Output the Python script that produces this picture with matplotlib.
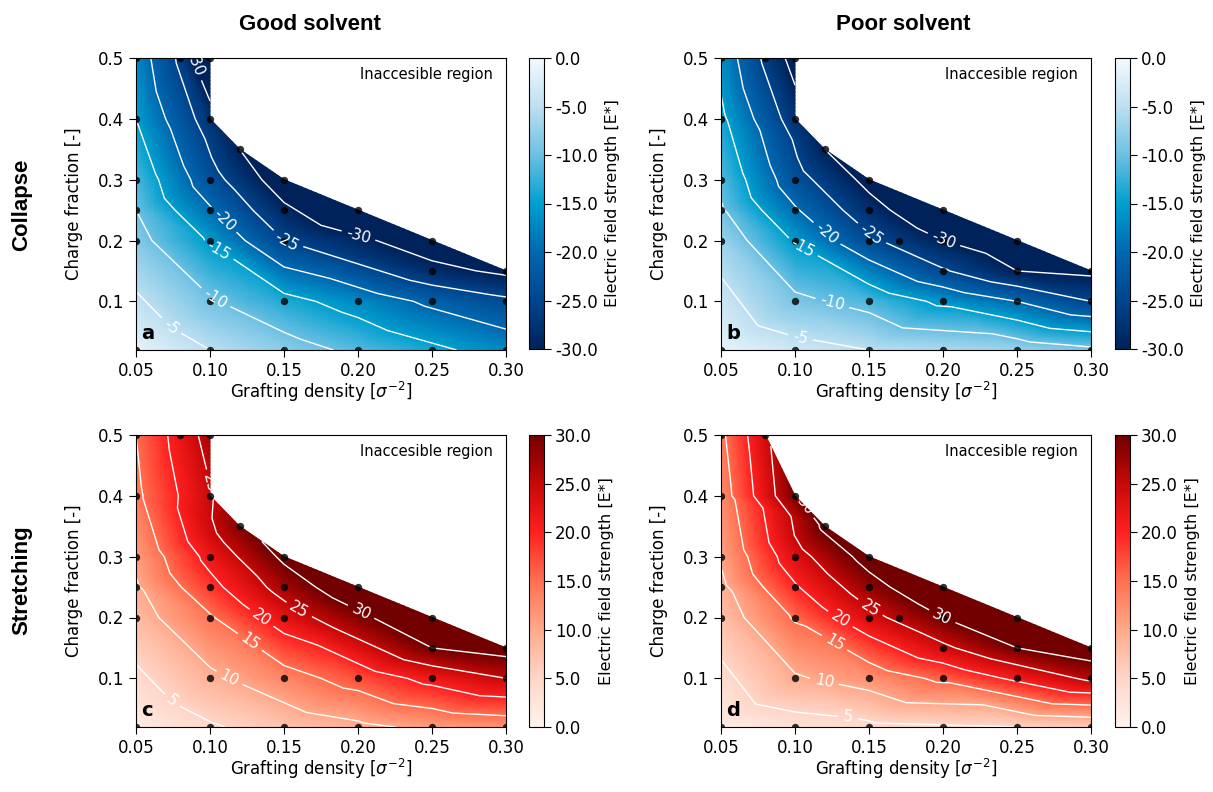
import numpy as np
import matplotlib
matplotlib.use("Agg")
import matplotlib.pyplot as plt
import matplotlib.tri as mtri
from matplotlib.path import Path
from matplotlib.colors import LinearSegmentedColormap
from matplotlib.ticker import FormatStrFormatter

plt.rcParams["contour.negative_linestyle"] = "solid"

# simulated grid points (grafting density, charge fraction)
good_x = [0.05, 0.10, 0.15, 0.20, 0.25, 0.30,
          0.10, 0.15, 0.20, 0.25, 0.30,
          0.25, 0.30,
          0.05, 0.10, 0.15, 0.25,
          0.05, 0.10, 0.15, 0.20,
          0.05, 0.10, 0.15,
          0.12,
          0.05, 0.10,
          0.05, 0.08, 0.10]
good_y = [0.02, 0.02, 0.02, 0.02, 0.02, 0.02,
          0.10, 0.10, 0.10, 0.10, 0.10,
          0.15, 0.15,
          0.20, 0.20, 0.20, 0.20,
          0.25, 0.25, 0.25, 0.25,
          0.30, 0.30, 0.30,
          0.35,
          0.40, 0.40,
          0.50, 0.50, 0.50]

poor_x = [0.05, 0.10, 0.15, 0.20, 0.25, 0.30,
          0.10, 0.15, 0.20, 0.25, 0.30,
          0.20, 0.25, 0.30,
          0.05, 0.10, 0.15, 0.17, 0.20, 0.25,
          0.05, 0.10, 0.15, 0.20,
          0.05, 0.10, 0.15,
          0.12,
          0.05, 0.10,
          0.05, 0.08, 0.10]
poor_y = [0.02, 0.02, 0.02, 0.02, 0.02, 0.02,
          0.10, 0.10, 0.10, 0.10, 0.10,
          0.15, 0.15, 0.15,
          0.20, 0.20, 0.20, 0.20, 0.20, 0.20,
          0.25, 0.25, 0.25, 0.25,
          0.30, 0.30, 0.30,
          0.35,
          0.40, 0.40,
          0.50, 0.50, 0.50]

# electric field strength at each point
collapse_good = [-1, -5, -8, -11, -14, -17,
                 -9.5, -13.5, -17, -21, -24,
                 -28.5, -31,
                 -8.5, -15.5, -25, -33,
                 -10, -19.5, -29, -35,
                 -11.5, -23, -33,
                 -30,
                 -15, -27.5,
                 -17, -26, -36]
stretch_good = [1, 4.5, 7, 9, 11, 12,
                9, 13, 17, 21.5, 25,
                30, 32,
                8, 14.5, 22.5, 35,
                9.5, 18.5, 27, 34,
                11, 21.5, 31,
                29,
                14, 24.5,
                15, 22, 27]
collapse_poor = [-1, -3.5, -5, -6, -7, -9,
                 -9, -11.5, -16, -20, -25,
                 -24.5, -30, -31,
                 -7, -15.5, -24, -26.5, -30, -34,
                 -9.5, -19.5, -28, -35,
                 -11, -23, -31.5,
                 -30,
                 -14, -27.5,
                 -16.5, -26, -32]
# last poor point (0.10, 0.50) not available for stretching
stretch_poor = [1, 3, 4, 4.5, 5, 6,
                9.5, 12, 16, 21, 26,
                24, 30, 33,
                7.5, 15.5, 23.5, 26, 30, 34,
                9, 19.5, 28, 35,
                10.5, 23, 32,
                31,
                12.5, 29.5,
                14, 24]

# edge of the inaccessible region
edge_main = [(0.10, 0.50), (0.10, 0.40), (0.12, 0.35), (0.15, 0.30),
             (0.20, 0.25), (0.25, 0.20), (0.30, 0.15)]
edge_d = [(0.08, 0.50), (0.10, 0.40), (0.12, 0.35), (0.15, 0.30),
          (0.20, 0.25), (0.25, 0.20), (0.30, 0.15)]

blues = LinearSegmentedColormap.from_list("bl", [
    (0.0, "#00225a"), (0.167, "#00458e"), (0.333, "#0068b0"),
    (0.5, "#00a0cf"), (0.667, "#6cc0e3"), (0.833, "#bcdff1"),
    (1.0, "#f3f9fe")])
reds = LinearSegmentedColormap.from_list("rd", [
    (0.0, "#fff2ec"), (0.167, "#ffd6c8"), (0.333, "#ffa98a"),
    (0.5, "#ff7050"), (0.667, "#ff2020"), (0.833, "#c80808"),
    (1.0, "#720000")])

W, H = 1213, 792
fig = plt.figure(figsize=(W / 100, H / 100), dpi=100)


def px_axes(l, t, r, b):
    return fig.add_axes([l / W, 1 - b / H, (r - l) / W, (b - t) / H])


panels = [
    # x, y, z, edge, cmap, vmin, vmax, letter, axes px, cbar px, labels
    (good_x, good_y, collapse_good, edge_main, blues, -30, 0, "a",
     (136, 58, 506, 350), (529, 58, 544, 349),
     [(0.09, 0.49), (0.2, 0.205), (0.152, 0.2), (0.11, 0.235),
      (0.105, 0.18), (0.105, 0.112), (0.07, 0.05)]),
    (poor_x, poor_y, collapse_poor, edge_main, blues, -30, 0, "b",
     (721, 58, 1091, 350), (1115, 58, 1130, 349),
     [(0.2, 0.197), (0.153, 0.216), (0.125, 0.221), (0.104, 0.18),
      (0.125, 0.095), (0.104, 0.045)]),
    (good_x, good_y, stretch_good, edge_main, reds, 0, 30, "c",
     (136, 435, 506, 727), (529, 435, 544, 727),
     [(0.2, 0.199), (0.16, 0.212), (0.135, 0.2), (0.123, 0.146),
      (0.113, 0.1), (0.07, 0.053), (0.098, 0.418)]),
    (poor_x[:-1], poor_y[:-1], stretch_poor, edge_d, reds, 0, 30, "d",
     (721, 435, 1091, 727), (1115, 435, 1130, 727),
     [(0.2, 0.204), (0.151, 0.217), (0.131, 0.199), (0.123, 0.143),
      (0.12, 0.097), (0.136, 0.042), (0.1, 0.401)]),
]

for (px, py, pz, edge, cmap, vmin, vmax, letter, apx, cpx, lab_pos) in panels:
    ax = px_axes(*apx)
    x = np.array(px)
    y = np.array(py)
    z = np.array(pz, dtype=float)
    tri = mtri.Triangulation(x, y)
    poly = Path(edge + [(0.5, edge[-1][1]), (0.5, 0.7), (edge[0][0], 0.7)])
    cx = x[tri.triangles].mean(axis=1)
    cy = y[tri.triangles].mean(axis=1)
    tri.set_mask(poly.contains_points(np.column_stack([cx, cy])))

    # linear field on a finer mesh so the colour map is applied smoothly
    refiner = mtri.UniformTriRefiner(tri)
    fine_tri, fine_z = refiner.refine_field(
        z, triinterpolator=mtri.LinearTriInterpolator(tri, z), subdiv=4)
    tpc = ax.tripcolor(fine_tri, fine_z, shading="gouraud", cmap=cmap,
                       vmin=vmin, vmax=vmax, zorder=1)
    if vmin < 0:
        levels = [-30, -25, -20, -15, -10, -5]
    else:
        levels = [5, 10, 15, 20, 25, 30]
    cs = ax.tricontour(tri, z, levels=levels, colors="white",
                       linewidths=1.0, linestyles="solid", zorder=2)
    ax.clabel(cs, fmt="%d", fontsize=11, inline=True, colors="white",
              manual=lab_pos)
    ax.scatter(x, y, s=28, color="black", alpha=0.8, zorder=3,
               linewidths=0)

    ax.set_xlim(0.05, 0.30)
    ax.set_ylim(0.02, 0.50)
    ax.set_xticks([0.05, 0.10, 0.15, 0.20, 0.25, 0.30])
    ax.set_yticks([0.1, 0.2, 0.3, 0.4, 0.5])
    ax.xaxis.set_major_formatter(FormatStrFormatter("%.2f"))
    ax.yaxis.set_major_formatter(FormatStrFormatter("%.1f"))
    ax.tick_params(labelsize=12, length=5)
    ax.set_xlabel(r"Grafting density [$\sigma^{-2}$]", fontsize=12,
                  labelpad=0)
    ax.set_ylabel("Charge fraction [-]", fontsize=12, labelpad=11)
    ax.text(0.965, 0.97, "Inaccesible region", transform=ax.transAxes,
            ha="right", va="top", fontsize=10.5)
    ax.text(0.015, 0.025, letter, transform=ax.transAxes, ha="left",
            va="bottom", fontsize=14, fontweight="bold")

    cax = px_axes(*cpx)
    cb = fig.colorbar(tpc, cax=cax, ticks=np.arange(vmin, vmax + 1, 5))
    cb.ax.yaxis.set_major_formatter(FormatStrFormatter("%.1f"))
    cb.ax.tick_params(labelsize=12, length=5, pad=3)
    cb.set_label("Electric field strength [E*]", fontsize=11.5, labelpad=5)

title_font = ["Liberation Sans", "DejaVu Sans"]
fig.text(310 / W, 1 - 25 / H, "Good solvent", ha="center", va="center",
         fontsize=16, fontweight="bold", family=title_font)
fig.text(903 / W, 1 - 25 / H, "Poor solvent", ha="center", va="center",
         fontsize=16, fontweight="bold", family=title_font)
fig.text(22 / W, 1 - 205 / H, "Collapse", ha="center", va="center",
         rotation=90, fontsize=16, fontweight="bold", family=title_font)
fig.text(22 / W, 1 - 580 / H, "Stretching", ha="center", va="center",
         rotation=90, fontsize=16, fontweight="bold", family=title_font)

fig.savefig("out.png", dpi=100)
